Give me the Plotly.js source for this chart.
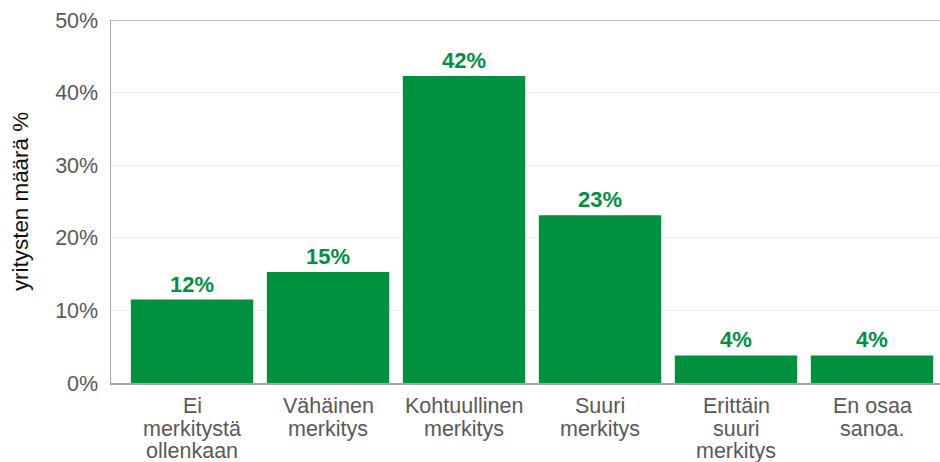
<!DOCTYPE html>
<html>
<head>
<meta charset="utf-8">
<script src="https://cdn.plot.ly/plotly-3.0.1.min.js"></script>
<style>html,body{margin:0;padding:0;background:#fff;}#chart{width:940px;height:462px;}</style>
</head>
<body>
<div id="chart"></div>
<script>
const categories = [
  "Ei<br>merkitystä<br>ollenkaan",
  "Vähäinen<br>merkitys",
  "Kohtuullinen<br>merkitys",
  "Suuri<br>merkitys",
  "Erittäin<br>suuri<br>merkitys",
  "En osaa<br>sanoa."
];
const values = [11.5, 15.3, 42.3, 23.1, 3.8, 3.8];
const yTitle = "yritysten määrä %";

const green = "#00913f";
const fam = "Liberation Sans, Arial, sans-serif";
const trace = {
  type: "bar",
  x: categories,
  y: values,
  marker: {color: green},
  texttemplate: "%{y:.0f}%",
  textposition: "outside",
  cliponaxis: false,
  textfont: {family: fam, size: 22, color: green, weight: "bold"},
  hoverinfo: "none"
};

// category labels drawn line by line for tight line spacing
const annotations = [];
categories.forEach(function (c) {
  c.split("<br>").forEach(function (line, i) {
    annotations.push({
      x: c, xref: "x", y: 0, yref: "paper",
      yanchor: "top", xanchor: "center",
      yshift: -9 - i * 22.5,
      text: line, showarrow: false,
      font: {family: fam, size: 21.5, color: "#595959"}
    });
  });
});

const layout = {
  width: 940, height: 462,
  margin: {l: 111, r: 0, t: 20, b: 79},
  paper_bgcolor: "#fff", plot_bgcolor: "#fff",
  bargap: 0.1,
  showlegend: false,
  font: {family: fam, size: 18, color: "#595959"},
  xaxis: {
    range: [-0.596, 5.5],
    showline: true, linecolor: "#a6a6a6", linewidth: 1.5,
    ticks: "", showgrid: false, showticklabels: false
  },
  yaxis: {
    range: [0, 50], dtick: 10, ticksuffix: "%",
    showline: true, linecolor: "#a6a6a6", linewidth: 1.5,
    gridcolor: "#eeeeee", gridwidth: 1,
    zeroline: false, ticks: "",
    ticklabelstandoff: 7,
    tickfont: {family: fam, size: 21.5, color: "#595959"},
    title: {text: yTitle, font: {family: fam, size: 22.4, color: "#111"}, standoff: 20}
  },
  annotations: annotations,
  shapes: [{
    type: "line", xref: "paper", yref: "y", x0: 0, x1: 1, y0: 50, y1: 50,
    line: {color: "#a6a6a6", width: 1.5}
  }]
};

Plotly.newPlot("chart", [trace], layout, {displayModeBar: false, staticPlot: true});
</script>
</body>
</html>
